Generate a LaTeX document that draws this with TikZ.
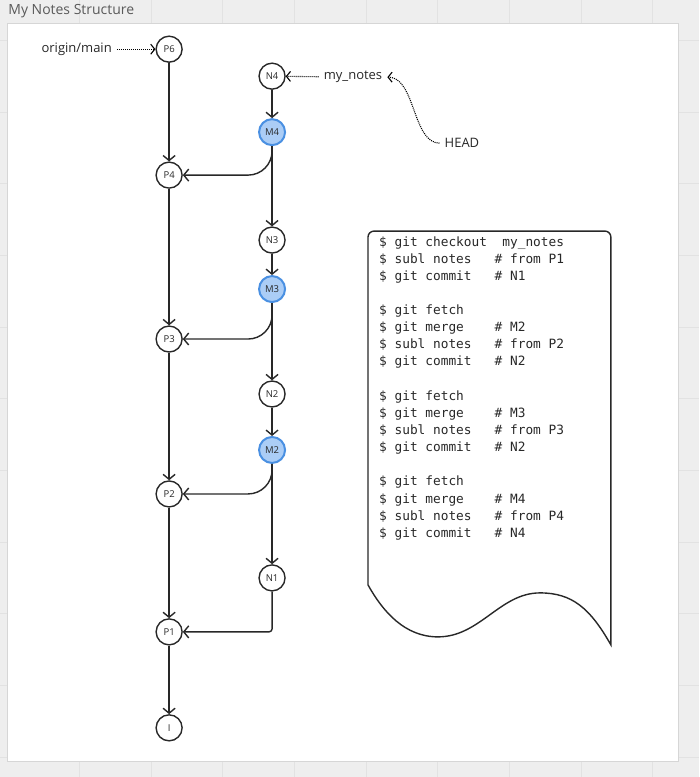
\documentclass[tikz,border=0pt]{standalone}
\usepackage{fontspec}
\setmainfont{Open Sans}
\newfontfamily\docfont{DejaVu Sans Mono}
\usetikzlibrary{arrows.meta}
\definecolor{bg-grey}{RGB}{238,238,238}
\definecolor{grid-grey}{RGB}{226,226,226}
\definecolor{panel-edge}{RGB}{214,214,214}
\definecolor{title-grey}{RGB}{90,90,90}
\definecolor{ink}{RGB}{40,40,40}
\definecolor{merge-fill}{RGB}{171,205,246}
\definecolor{merge-blue}{RGB}{74,144,226}

\begin{document}
\begin{tikzpicture}[x=1pt,y=1pt,
	commit/.style={circle,draw=ink,line width=1.4pt,fill=white,minimum size=26pt,inner sep=0pt,font=\fontsize{9.5}{10}\selectfont,text=ink},
	merge/.style={commit,draw=merge-blue,fill=merge-fill,line width=2pt},
	link/.style={draw=ink,line width=1.4pt,-{Straight Barb[length=5pt,width=12pt]}},
	pointer/.style={draw=black,line width=1.1pt,dash pattern=on 1pt off 1pt,-{Straight Barb[length=4pt,width=10pt]}},
	refname/.style={font=\fontsize{13}{15}\selectfont,text=ink,inner sep=5pt}]

% board and grid
\fill[bg-grey] (0,0) rectangle (699,-777);
\foreach \x in {0,...,8}{
	\draw[grid-grey] ({79+71.7*\x},0) -- ({79+71.7*\x},-777);
}
\foreach \y in {0,...,10}{
	\draw[grid-grey] (0,{-40-71.7*\y}) -- (699,{-40-71.7*\y});
}
\filldraw[fill=white,draw=panel-edge] (7.5,-23) rectangle (678,-761);
\node[anchor=west,inner sep=0pt,text=title-grey,font=\fontsize{14}{16}\selectfont] (title) at (8,-11) {My Notes Structure};

% commits
\foreach \n/\y in {P6/49,P4/175,P3/339,P2/494,P1/632,I/728}{
	\node[commit] (\n) at (169,-\y) {\n};
}
\foreach \n/\y in {N4/76,N3/240,N2/394,N1/578}{
	\node[commit] (\n) at (272,-\y) {\n};
}
\foreach \n/\y in {M4/132,M3/289,M2/450}{
	\node[merge] (\n) at (272,-\y) {\n};
}

% history
\foreach \a/\b in {P6/P4,P4/P3,P3/P2,P2/P1,P1/I,N4/M4,M4/N3,N3/M3,M3/N2,N2/M2,M2/N1}{
	\draw[link] (\a) -- (\b);
}
\foreach \m/\p in {M4/P4,M3/P3,M2/P2}{
	\draw[link,rounded corners=24pt] (\m) |- (\p);
}
\draw[link,rounded corners=3pt] (N1) |- (P1);

% refs
\node[refname] (origin) at (76.5,-49) {origin/main};
\node[refname] (mynotes) at (353,-77) {my\_notes};
\node[refname] (head) at (462,-143) {HEAD};
\draw[pointer] (origin) -- (P6);
\draw[pointer] (mynotes) -- (N4);
\draw[pointer] (head.west) .. controls +(-27,0) and +(28,0) .. (mynotes.east);

% command sheet
\draw[ink,line width=1.4pt] (368,-585) -- (368,-237) arc[start angle=180,end angle=90,radius=6]
	-- (605,-231) arc[start angle=90,end angle=0,radius=6] -- (611,-645)
	.. controls (590,-608) and (572,-593) .. (540,-593)
	.. controls (500,-593) and (480,-637) .. (438,-637)
	.. controls (405,-637) and (383,-612) .. cycle;
\node[anchor=north west,inner sep=0pt,align=left,text=ink,font=\docfont\fontsize{12.8}{17.15}\selectfont] (cmds) at (379,-236) {
	\$ git checkout\ \ my\_notes\\
	\$ subl notes\ \ \ \# from P1\\
	\$ git commit\ \ \ \# N1\\[17.15pt]
	\$ git fetch\\
	\$ git merge\ \ \ \ \# M2\\
	\$ subl notes\ \ \ \# from P2\\
	\$ git commit\ \ \ \# N2\\[17.15pt]
	\$ git fetch\\
	\$ git merge\ \ \ \ \# M3\\
	\$ subl notes\ \ \ \# from P3\\
	\$ git commit\ \ \ \# N2\\[17.15pt]
	\$ git fetch\\
	\$ git merge\ \ \ \ \# M4\\
	\$ subl notes\ \ \ \# from P4\\
	\$ git commit\ \ \ \# N4};

\end{tikzpicture}
\end{document}
